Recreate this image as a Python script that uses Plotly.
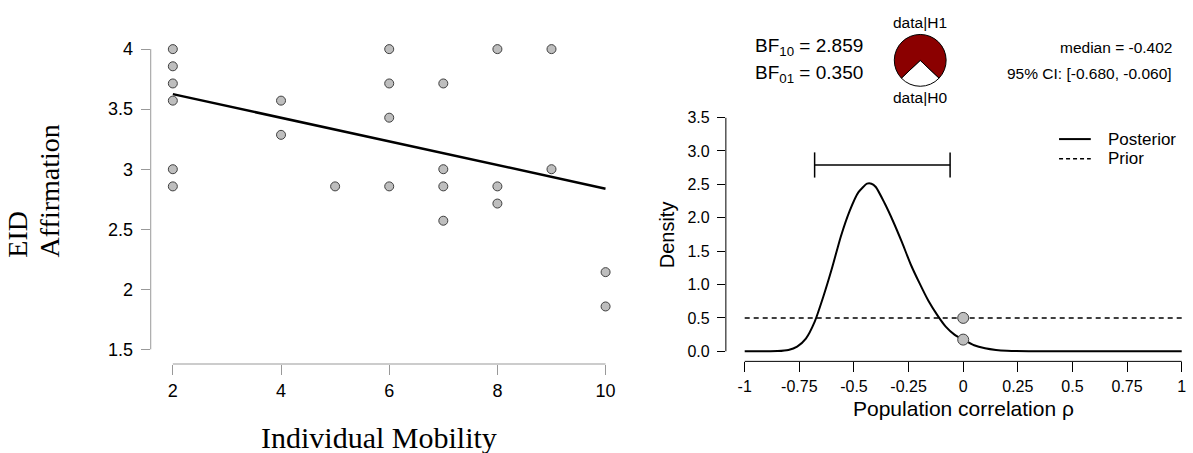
import plotly.graph_objects as go

W, H = 1193, 453

# ---------------- data ----------------
# Left panel: scatter of Individual Mobility vs EID Affirmation
mobility = [2, 2, 2, 2, 2, 2, 4, 4, 5, 6, 6, 6, 6, 7, 7, 7, 7, 8, 8, 8, 9, 9, 10, 10]
affirmation = [4.0, 3.857, 3.714, 3.571, 3.0, 2.857, 3.571, 3.286, 2.857,
               4.0, 3.714, 3.429, 2.857, 3.714, 3.0, 2.857, 2.571,
               4.0, 2.857, 2.714, 4.0, 3.0, 2.143, 1.857]
fit_x = [2, 10]
fit_y = [3.625, 2.838]
left_xticks = [2, 4, 6, 8, 10]
left_yticks = [1.5, 2, 2.5, 3, 3.5, 4]
left_yticktext = ["1.5", "2", "2.5", "3", "3.5", "4"]

# Right panel: Bayesian correlation posterior / prior
rho = [-1.0, -0.9, -0.85, -0.8, -0.76, -0.72, -0.68, -0.64, -0.6, -0.56, -0.52,
       -0.48, -0.44, -0.42, -0.4, -0.36, -0.32, -0.28, -0.24, -0.2, -0.16, -0.12,
       -0.08, -0.04, 0.0, 0.05, 0.1, 0.15, 0.2, 0.3, 0.5, 1.0]
posterior = [0.0, 0.0, 0.003, 0.02, 0.07, 0.19, 0.44, 0.82, 1.25, 1.72, 2.1,
             2.38, 2.51, 2.51, 2.46, 2.22, 1.94, 1.63, 1.30, 1.02, 0.76, 0.55,
             0.37, 0.25, 0.175, 0.09, 0.045, 0.02, 0.008, 0.001, 0.0, 0.0]
prior_x = [-1.0, 1.0]
prior_y = [0.5, 0.5]
point_rho = [0.0, 0.0]
point_density = [0.5, 0.175]
ci = [-0.680, -0.060]
ci_height = 2.79
bf10 = 2.859
bf01 = 0.350
median_rho = -0.402
right_xticks = [-1, -0.75, -0.5, -0.25, 0, 0.25, 0.5, 0.75, 1]
right_xticktext = ["-1", "-0.75", "-0.5", "-0.25", "0", "0.25", "0.5", "0.75", "1"]
right_yticks = [0, 0.5, 1, 1.5, 2, 2.5, 3, 3.5]
right_yticktext = ["0.0", "0.5", "1.0", "1.5", "2.0", "2.5", "3.0", "3.5"]


def PX(x):
    return x / W


def PY(y):
    return 1 - y / H


SANS = "Liberation Sans, Arial, sans-serif"
SERIF = "Liberation Serif, Times New Roman, serif"

fig = go.Figure()

# ---------------- left panel ----------------
fig.add_trace(go.Scatter(x=fit_x, y=fit_y, mode="lines",
                         line=dict(color="black", width=2.5),
                         xaxis="x", yaxis="y", showlegend=False, hoverinfo="skip"))
fig.add_trace(go.Scatter(x=mobility, y=affirmation, mode="markers",
                         marker=dict(size=9, color="#bebebe",
                                     line=dict(color="#404040", width=1)),
                         cliponaxis=False, xaxis="x", yaxis="y", showlegend=False))

# ---------------- right panel ----------------
fig.add_trace(go.Scatter(x=prior_x, y=prior_y, mode="lines",
                         line=dict(color="black", width=1.5, dash="5px,4px"),
                         xaxis="x2", yaxis="y2", showlegend=False, hoverinfo="skip"))
fig.add_trace(go.Scatter(x=rho, y=posterior, mode="lines",
                         line=dict(color="black", width=2, shape="spline", smoothing=0.6),
                         xaxis="x2", yaxis="y2", showlegend=False))
fig.add_trace(go.Scatter(x=ci, y=[ci_height, ci_height], mode="lines+markers",
                         line=dict(color="black", width=1.5),
                         marker=dict(symbol="line-ns-open", size=18,
                                     line=dict(color="black", width=1.5)),
                         cliponaxis=False, xaxis="x2", yaxis="y2", showlegend=False))
fig.add_trace(go.Scatter(x=point_rho, y=point_density, mode="markers",
                         marker=dict(size=11, color="#bebebe",
                                     line=dict(color="#404040", width=1)),
                         cliponaxis=False, xaxis="x2", yaxis="y2", showlegend=False))

# pie of BF
h0_frac = 1 / (1 + bf10)
rot = 180 - h0_frac * 360 / 2
cx, cy, r = 928, 51.5, 26.5
fig.add_trace(go.Pie(values=[1, bf10], labels=["data|H0", "data|H1"],
                     marker=dict(colors=["white", "#8b0000"],
                                 line=dict(color="black", width=1)),
                     sort=False, direction="clockwise", rotation=rot,
                     textinfo="none", hoverinfo="skip", showlegend=False,
                     domain=dict(x=[PX(cx - r), PX(cx + r)], y=[PY(cy + r), PY(cy - r)])))

# ---------------- axes ----------------
lx0, lx1 = 152, 611
ly0, ly1 = 40, 362
ux = (610.7 - 174.3) / 8.0
uy = (347 - 40) / 2.5
rx0, rx1 = 732, 1193
ry0, ry1 = 110, 359.3
rux = (1191.7 - 751) / 2.0
ruy = (349 - 110) / 3.5

layout_axes = dict(
    xaxis=dict(domain=[PX(lx0), PX(lx1)],
               range=[2 - (174.3 - lx0) / ux, 10 + (lx1 - 610.7) / ux],
               tickvals=left_xticks, ticks="outside", ticklen=10, tickcolor="#999999",
               showline=False, showgrid=False, zeroline=False,
               tickfont=dict(family=SANS, size=18, color="black"), anchor="y"),
    yaxis=dict(domain=[PY(ly1), PY(ly0)],
               range=[1.5 - (ly1 - 347) / uy, 4],
               tickvals=left_yticks, ticktext=left_yticktext, ticks="outside",
               ticklen=9, tickcolor="#999999", ticklabelstandoff=4,
               showline=False, showgrid=False, zeroline=False,
               tickfont=dict(family=SANS, size=18, color="black"), anchor="x"),
    xaxis2=dict(domain=[PX(rx0), PX(rx1)],
                range=[-1 - (751 - rx0) / rux, 1 + (rx1 - 1191.7) / rux],
                tickvals=right_xticks, ticktext=right_xticktext, ticks="outside",
                ticklen=10, tickcolor="black",
                showline=False, showgrid=False, zeroline=False,
                tickfont=dict(family=SANS, size=16, color="black"), anchor="y2"),
    yaxis2=dict(domain=[PY(ry1), PY(ry0)],
                range=[-(ry1 - 349) / ruy, 3.5],
                tickvals=right_yticks, ticktext=right_yticktext, ticks="outside",
                ticklen=8, tickcolor="black", ticklabelstandoff=4,
                showline=False, showgrid=False, zeroline=False,
                tickfont=dict(family=SANS, size=16, color="black"), anchor="x2"),
)

shapes = [
    # left axis lines (only across tick range)
    dict(type="line", xref="x domain", yref="y", x0=0, x1=0, y0=1.5, y1=4,
         line=dict(color="#999999", width=1)),
    dict(type="line", xref="x", yref="y domain", x0=2, x1=10, y0=0, y1=0,
         line=dict(color="#999999", width=1)),
    # right axis lines
    dict(type="line", xref="x2 domain", yref="y2", x0=0, x1=0, y0=0, y1=3.5,
         line=dict(color="black", width=1)),
    dict(type="line", xref="x2", yref="y2 domain", x0=-1, x1=1, y0=0, y1=0,
         line=dict(color="black", width=1)),
    # legend keys
    dict(type="line", xref="paper", yref="paper", x0=PX(1068), x1=PX(1100),
         y0=PY(132), y1=PY(132), line=dict(color="black", width=2)),
    dict(type="line", xref="paper", yref="paper", x0=PX(1068), x1=PX(1100),
         y0=PY(152), y1=PY(152), line=dict(color="black", width=1.5, dash="4px,3px")),
]


def ann(text, x, y, size, xanchor="center", yanchor="middle", family=SANS, angle=0, align="center"):
    return dict(text=text, x=PX(x), y=PY(y), xref="paper", yref="paper",
                xanchor=xanchor, yanchor=yanchor, showarrow=False, textangle=angle,
                align=align, font=dict(family=family, size=size, color="black"))


annotations = [
    ann("Individual Mobility", 382, 437, 30, family=SERIF),
    ann("EID", 18, 255, 28, yanchor="bottom", family=SERIF, angle=-90),
    ann("Affirmation", 50, 255, 28, yanchor="bottom", family=SERIF, angle=-90),
    ann("Density", 673, 230, 20, angle=-90),
    ann("Population correlation \u03c1", 972, 407, 21),
    ann(f"BF<sub>10</sub> = {bf10:.3f}", 759, 38, 19, xanchor="left"),
    ann(f"BF<sub>01</sub> = {bf01:.3f}", 759, 65, 19, xanchor="left"),
    ann("data|H1", 928, 13, 15.5),
    ann("data|H0", 928, 89, 15.5),
    ann(f"median = {median_rho:.3f}", 1184, 38, 15.5, xanchor="right"),
    ann(f"95% CI: [{ci[0]:.3f}, {ci[1]:.3f}]", 1184, 65, 15.5, xanchor="right"),
    ann("Posterior", 1115, 132, 17, xanchor="left"),
    ann("Prior", 1115, 152, 17, xanchor="left"),
]

fig.update_layout(
    width=W, height=H, autosize=False,
    margin=dict(l=0, r=0, t=0, b=0, pad=0),
    paper_bgcolor="white", plot_bgcolor="white",
    shapes=shapes, annotations=annotations,
    **layout_axes,
)

fig.write_html("out.html", config={"displayModeBar": False},
               post_script="document.body.style.margin='0';document.body.style.padding='0';")
